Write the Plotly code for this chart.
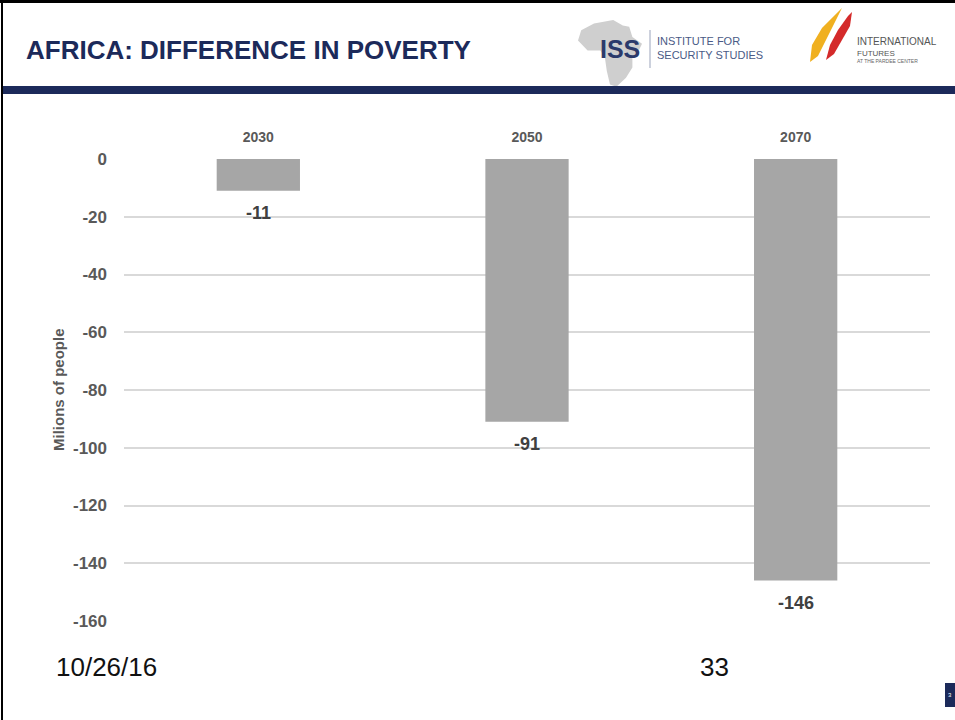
import plotly.graph_objects as go

years = ["2030", "2050", "2070"]
difference = [-11, -91, -146]
ytick_vals = [0, -20, -40, -60, -80, -100, -120, -140, -160]
ytick_text = ["0", "-20", "-40", "-60", "-80", "-100", "-120", "-140", "-160"]

W, H = 955, 720
L, R, T, B = 124, 25, 159, 99
PW, PH = W - L - R, H - T - B


def px(x):
    return (x - L) / PW


def py(y):
    return (H - B - y) / PH


NAVY = "#1c2a5a"
SANS = "Liberation Sans, Arial, sans-serif"

fig = go.Figure()
fig.add_trace(go.Bar(
    x=years, y=difference, marker=dict(color="#a6a6a6", line=dict(width=0)),
    width=0.31, hoverinfo="skip", showlegend=False,
))

annotations = []
for i, v in enumerate(difference):
    annotations.append(dict(
        x=i, y=v, xref="x", yref="y", text=str(v), showarrow=False,
        yanchor="top", yshift=-10,
        font=dict(family=SANS, size=18, color="#404040", weight="bold"),
    ))

annotations += [
    dict(x=px(24), y=py(50), xref="paper", yref="paper", text="AFRICA: DIFFERENCE IN POVERTY",
         showarrow=False, xanchor="left", yanchor="middle",
         font=dict(family=SANS, size=26, color=NAVY, weight="bold")),
    dict(x=px(54), y=py(667), xref="paper", yref="paper", text="10/26/16",
         showarrow=False, xanchor="left", yanchor="middle",
         font=dict(family=SANS, size=26, color="#111111")),
    dict(x=px(714), y=py(667), xref="paper", yref="paper", text="33",
         showarrow=False, xanchor="center", yanchor="middle",
         font=dict(family=SANS, size=26, color="#111111")),
    dict(x=px(58), y=py(390), xref="paper", yref="paper", text="Milions of people",
         showarrow=False, textangle=-90, xanchor="center", yanchor="middle",
         font=dict(family=SANS, size=15, color="#595959", weight="bold")),
    dict(x=px(620), y=py(49), xref="paper", yref="paper", text="ISS",
         showarrow=False, xanchor="center", yanchor="middle",
         font=dict(family=SANS, size=25, color="#2b3a6b", weight="bold")),
    dict(x=px(655), y=py(41), xref="paper", yref="paper", text="INSTITUTE FOR",
         showarrow=False, xanchor="left", yanchor="middle",
         font=dict(family=SANS, size=11, color="#4a5a86")),
    dict(x=px(655), y=py(55), xref="paper", yref="paper", text="SECURITY STUDIES",
         showarrow=False, xanchor="left", yanchor="middle",
         font=dict(family=SANS, size=11, color="#4a5a86")),
    dict(x=px(855), y=py(42), xref="paper", yref="paper", text="INTERNATIONAL",
         showarrow=False, xanchor="left", yanchor="middle",
         font=dict(family=SANS, size=10, color="#555555")),
    dict(x=px(855), y=py(53), xref="paper", yref="paper", text="FUTURES",
         showarrow=False, xanchor="left", yanchor="middle",
         font=dict(family=SANS, size=8, color="#555555")),
    dict(x=px(855), y=py(61), xref="paper", yref="paper", text="AT THE PARDEE CENTER",
         showarrow=False, xanchor="left", yanchor="middle",
         font=dict(family=SANS, size=5, color="#666666")),
    dict(x=px(950), y=py(695), xref="paper", yref="paper", text="3",
         showarrow=False, xanchor="center", yanchor="middle",
         font=dict(family=SANS, size=6, color="#ffffff")),
]


def pth(points):
    return "M " + " L ".join(f"{px(a):.5f},{py(b):.5f}" for a, b in points) + " Z"


bx0, by0, bw, bh = 578, 20, 64, 68
africa_norm = [(0.25, 0.05), (0.55, 0.0), (0.7, 0.08), (0.8, 0.1), (0.85, 0.25), (1.0, 0.35),
               (0.95, 0.45), (0.85, 0.55), (0.85, 0.7), (0.75, 0.85), (0.6, 0.98), (0.5, 0.95),
               (0.45, 0.75), (0.42, 0.55), (0.35, 0.45), (0.15, 0.45), (0.0, 0.3), (0.05, 0.15)]
africa = [(bx0 + a * bw, by0 + b * bh) for a, b in africa_norm]

shapes = [
    dict(type="path", xref="paper", yref="paper", path=pth(africa),
         fillcolor="#cfcfcf", line=dict(width=0), layer="below"),
    dict(type="line", xref="paper", yref="paper", x0=px(650), x1=px(650), y0=py(30), y1=py(68),
         line=dict(color="#9aa3bb", width=1)),
    dict(type="path", xref="paper", yref="paper",
         path=pth([(810, 62), (812, 45), (822, 28), (836, 14), (842, 8), (834, 24), (826, 40), (818, 56)]),
         fillcolor="#f0b020", line=dict(width=0)),
    dict(type="path", xref="paper", yref="paper",
         path=pth([(826, 60), (830, 45), (838, 30), (848, 16), (852, 12), (850, 26), (842, 40), (834, 54)]),
         fillcolor="#d42a2a", line=dict(width=0)),
    dict(type="rect", xref="paper", yref="paper", x0=px(3), x1=px(955), y0=py(94), y1=py(86),
         fillcolor=NAVY, line=dict(width=0)),
    dict(type="line", xref="paper", yref="paper", x0=px(0), x1=px(955), y0=py(1.5), y1=py(1.5),
         line=dict(color="#000000", width=3)),
    dict(type="line", xref="paper", yref="paper", x0=px(2), x1=px(2), y0=py(0), y1=py(720),
         line=dict(color="#000000", width=2)),
    dict(type="rect", xref="paper", yref="paper", x0=px(945), x1=px(955), y0=py(707), y1=py(683),
         fillcolor=NAVY, line=dict(width=0)),
]

fig.update_layout(
    width=W, height=H,
    margin=dict(l=L, r=R, t=T, b=B, autoexpand=False),
    paper_bgcolor="white", plot_bgcolor="white",
    bargap=0.69,
    annotations=annotations, shapes=shapes,
    xaxis=dict(type="category", range=[-0.5, 2.5], side="top", showgrid=False, zeroline=False,
               showline=False, ticks="",
               tickfont=dict(family=SANS, size=14, color="#595959", weight="bold"),
               ticklabelstandoff=13, fixedrange=True),
    yaxis=dict(range=[-160, 0], tickvals=ytick_vals, ticktext=ytick_text,
               showgrid=True, gridcolor="#d9d9d9", gridwidth=2, zeroline=False, showline=False,
               ticks="", ticklabelstandoff=16,
               tickfont=dict(family=SANS, size=17, color="#595959", weight="bold"),
               fixedrange=True),
)
fig.write_html("out.html", config={"displayModeBar": False},
               post_script="document.body.style.margin='0';document.body.style.overflow='hidden';")
